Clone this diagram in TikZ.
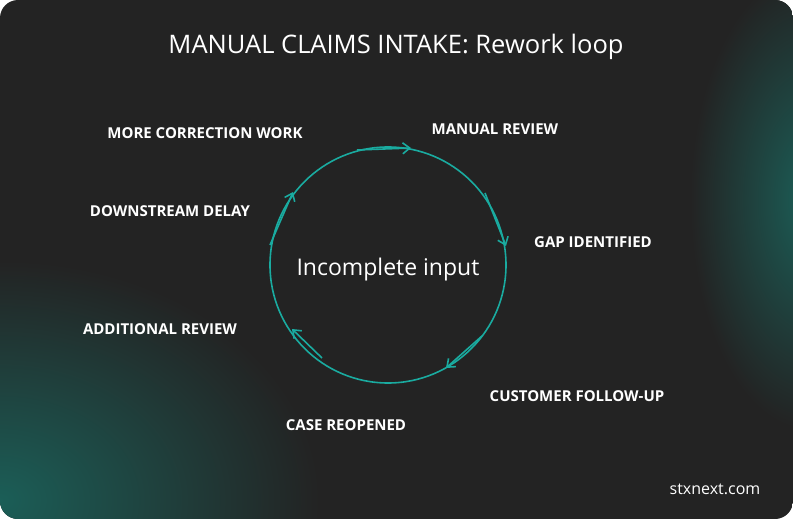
\documentclass[tikz,border=0pt]{standalone}
\usepackage{fontspec}
\setmainfont{Open Sans}
\usetikzlibrary{arrows.meta}
\definecolor{bg}{HTML}{232323}
\definecolor{glow}{HTML}{1B5E57}
\definecolor{ring}{HTML}{1AABA0}
\begin{document}
\begin{tikzpicture}[x=1pt,y=-1pt,
  lab/.style={text=white,font=\fontsize{15}{18}\selectfont\bfseries},
  arr/.style={ring,line width=1.6pt,-{Straight Barb[length=7pt,width=11pt]}}]
\useasboundingbox (0,0) rectangle (793,519);
\fill[white] (0,0) rectangle (793,519);
\begin{scope}
\clip[rounded corners=18pt] (0,0) rectangle (793,519);
\fill[bg] (0,0) rectangle (793,519);
\shade[inner color=glow,outer color=bg] (0,500) ellipse (320 and 240);
\shade[inner color=glow,outer color=bg] (810,200) ellipse (120 and 230);
\end{scope}
\node[text=white,font=\fontsize{25.5}{30}\selectfont] (title) at (396,47) {MANUAL CLAIMS INTAKE: Rework loop};
\draw[ring,line width=1.6pt] (388,265) circle (118);
\node[text=white,font=\fontsize{23}{27}\selectfont] (c) at (388,270) {Incomplete input};
\coordinate (a1) at (357,150); \coordinate (b1) at (411,148);
\coordinate (a2) at (485,193); \coordinate (b2) at (506,246);
\coordinate (a3) at (482,336); \coordinate (b3) at (446,368);
\coordinate (a4) at (322,358); \coordinate (b4) at (292,329);
\coordinate (a5) at (270,245); \coordinate (b5) at (293,192);
\draw[arr] (a1) -- (b1);
\draw[arr] (a2) -- (b2);
\draw[arr] (a3) -- (b3);
\draw[arr] (a4) -- (b4);
\draw[arr] (a5) -- (b5);
\node[lab] (l1) at (205,133) {MORE CORRECTION WORK};
\node[lab] (l2) at (495,129) {MANUAL REVIEW};
\node[lab] (l3) at (170,211) {DOWNSTREAM DELAY};
\node[lab] (l4) at (593,242) {GAP IDENTIFIED};
\node[lab] (l5) at (160,329) {ADDITIONAL REVIEW};
\node[lab] (l6) at (577,396) {CUSTOMER FOLLOW-UP};
\node[lab] (l7) at (346,425) {CASE REOPENED};
\node[text=white!80,font=\fontsize{16}{19}\selectfont] (w) at (715,489) {stxnext.com};
\end{tikzpicture}
\end{document}
